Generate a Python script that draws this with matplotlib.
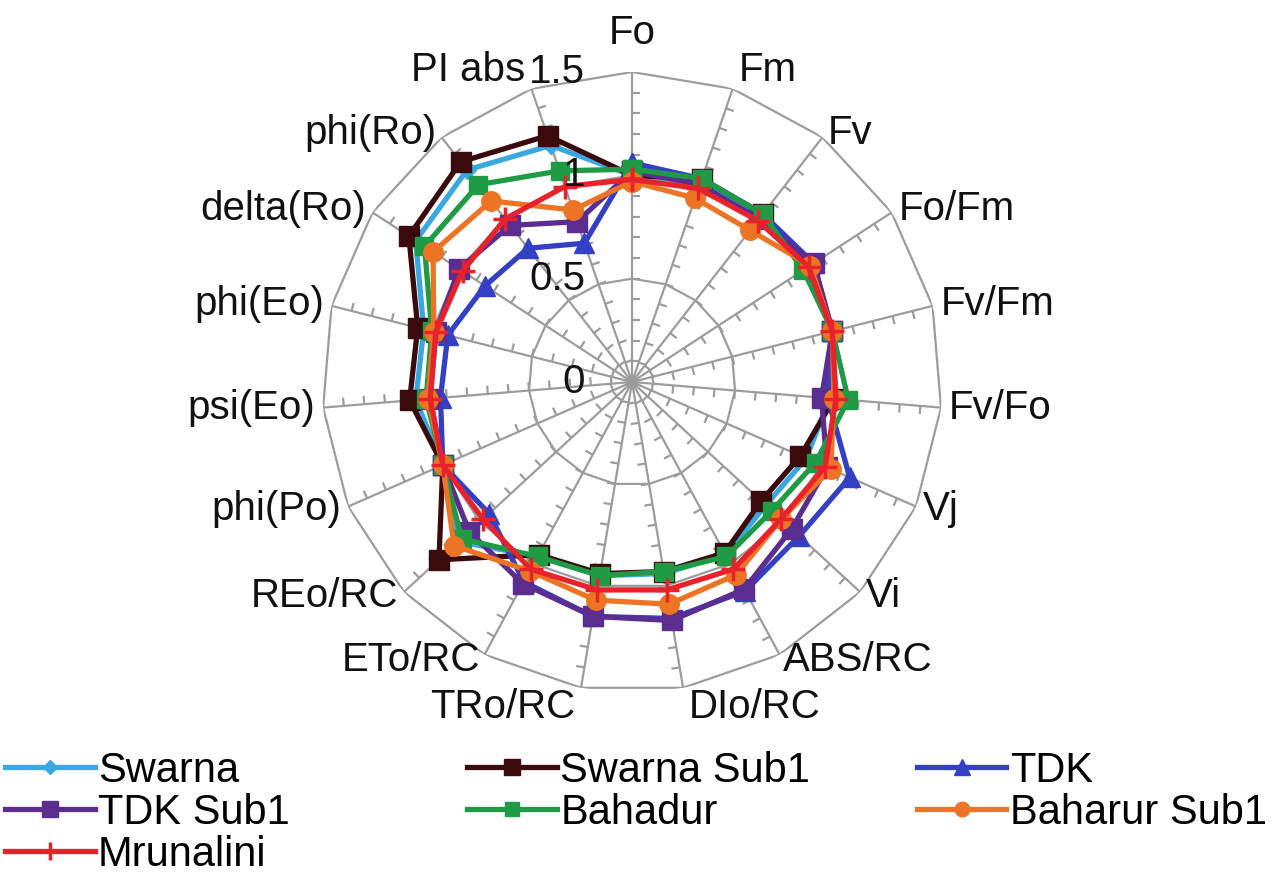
import numpy as np
import matplotlib
matplotlib.use("Agg")
import matplotlib.pyplot as plt
from matplotlib.lines import Line2D
from matplotlib.collections import LineCollection
from matplotlib.transforms import offset_copy

plt.rcParams['font.family'] = ['Liberation Sans', 'DejaVu Sans']

categories = ['Fo', 'Fm', 'Fv', 'Fo/Fm', 'Fv/Fm', 'Fv/Fo', 'Vj', 'Vi', 'ABS/RC',
              'DIo/RC', 'TRo/RC', 'ETo/RC', 'REo/RC', 'phi(Po)', 'psi(Eo)',
              'phi(Eo)', 'delta(Ro)', 'phi(Ro)', 'PI abs']

swarna      = [1.00, 1.03, 1.02, 1.02, 1.00, 0.96, 0.92, 0.88, 0.95, 0.94, 0.95, 0.96, 1.14, 1.00, 1.05, 1.04, 1.25, 1.30, 1.21]
swarna_sub1 = [1.00, 1.04, 1.03, 1.02, 1.00, 0.98, 0.89, 0.85, 0.94, 0.93, 0.94, 0.95, 1.27, 1.00, 1.08, 1.07, 1.29, 1.35, 1.26]
tdk         = [1.06, 1.04, 1.03, 1.05, 1.00, 0.95, 1.15, 1.10, 1.15, 1.16, 1.15, 1.10, 0.94, 1.00, 0.93, 0.92, 0.85, 0.82, 0.71]
tdk_sub1    = [1.02, 1.01, 1.00, 1.05, 1.00, 0.92, 1.03, 1.05, 1.14, 1.17, 1.15, 1.11, 1.07, 1.00, 0.98, 0.98, 1.00, 0.96, 0.82]
bahadur     = [1.03, 1.04, 1.03, 0.99, 1.00, 1.05, 0.97, 0.92, 0.96, 0.93, 0.95, 0.96, 1.12, 1.00, 1.00, 1.00, 1.20, 1.21, 1.08]
baharur_sub1= [0.97, 0.94, 0.93, 1.03, 1.00, 0.98, 1.05, 0.98, 1.06, 1.09, 1.07, 1.04, 1.17, 1.00, 0.99, 0.99, 1.15, 1.11, 0.88]
mrunalini   = [0.98, 0.99, 0.99, 1.02, 1.00, 0.99, 1.02, 0.98, 1.03, 1.02, 1.02, 1.03, 0.98, 1.00, 0.98, 0.98, 0.98, 1.00, 1.00]

series_names = ['Swarna', 'Swarna Sub1', 'TDK', 'TDK Sub1', 'Bahadur', 'Baharur Sub1', 'Mrunalini']
series_values = [swarna, swarna_sub1, tdk, tdk_sub1, bahadur, baharur_sub1, mrunalini]
colors = ['#3aa8e0', '#3a0a0c', '#3340c4', '#5b2d91', '#1f9a45', '#ec7424', '#e8222a']
markers = ['D', 's', '^', 's', 's', 'o', '+']
msizes = [9, 15, 15, 15, 13, 14, 17]

ring_values = [0.5, 1.0, 1.5]
ring_labels = ['0', '0.5', '1', '1.5']
ring_label_pos = [0.0, 0.5, 1.0, 1.5]
rmax = 1.5

FS = 29

N = len(categories)
theta = np.arange(N) * 2 * np.pi / N
theta_closed = np.append(theta, theta[0])

fig = plt.figure(figsize=(12.77, 8.82), dpi=100)
ax = fig.add_axes([0.2522, 0.2154, 0.4855, 0.703], projection='polar')
ax.set_theta_zero_location('N')
ax.set_theta_direction(-1)
ax.set_ylim(0, rmax)
ax.axis('off')

grid_c = '#9c9c9c'
# polygon rings
for rv in ring_values:
    ax.plot(theta_closed, [rv] * (N + 1), color=grid_c, lw=1.6, zorder=1)
# spokes
for t in theta:
    ax.plot([t, t], [0, rmax], color=grid_c, lw=1.6, zorder=1)
# minor ticks on spokes (clockwise side)
L = 0.04
segs = []
for t in theta:
    for r in np.arange(0.1, 1.45, 0.1):
        segs.append([(t, r), (t + np.arctan(L / r), np.hypot(r, L))])
ax.add_collection(LineCollection(segs, colors=grid_c, linewidths=1.6, zorder=1))

# ring value labels
trans_lab = offset_copy(ax.transData, fig=fig, x=-47, y=0, units='dots')
for rv, lab in zip(ring_label_pos, ring_labels):
    ax.text(0, rv, lab, transform=trans_lab, ha='right', va='center',
            fontsize=FS, color='#111111', zorder=5)

# category labels
for t, lab in zip(theta, categories):
    s, c = np.sin(t), np.cos(t)
    if abs(s) < 0.05:
        ha = 'center'
    elif s > 0:
        ha = 'left'
    else:
        ha = 'right'
    if c > 0.9:
        va = 'bottom'
    elif c < -0.9:
        va = 'top'
    else:
        va = 'center'
    if ha == 'center':
        xo, yo = 0, 20 * np.sign(c)
    elif va in ('bottom', 'top'):
        xo, yo = 6 * np.sign(s), 0
    else:
        xo, yo = 8 * s, 6 * c
    tr = offset_copy(ax.transData, fig=fig, x=xo, y=yo, units='dots')
    ax.text(t, rmax, lab, transform=tr, ha=ha, va=va, fontsize=FS,
            color='#111111', clip_on=False)

for name, vals, col, mk, ms in zip(series_names, series_values, colors, markers, msizes):
    v = np.append(vals, vals[0])
    ax.plot(theta_closed, v, color=col, lw=3.8, marker=mk, markersize=ms,
            markeredgewidth=2.5 if mk == '+' else 1.0,
            markeredgecolor=col, markerfacecolor=col, label=name, zorder=3,
            clip_on=False)

# legend: 3 columns, row-major
col_x = [0.004, 0.366, 0.718]
row_y = [0.126, 0.0785, 0.031]
for k, (name, col, mk, ms) in enumerate(zip(series_names, colors, markers, msizes)):
    r, cidx = divmod(k, 3)
    hd = Line2D([], [], color=col, lw=3.8, marker=mk, markersize=ms * 0.75,
                markeredgewidth=2.5 if mk == '+' else 1.0,
                markeredgecolor=col, markerfacecolor=col)
    fig.legend(handles=[hd], labels=[name], loc='center left',
               bbox_to_anchor=(col_x[cidx], row_y[r]), frameon=False,
               fontsize=30, handlelength=2.15, handletextpad=0.08,
               borderpad=0, borderaxespad=0)

fig.savefig('out.png', dpi=100, facecolor='white')
